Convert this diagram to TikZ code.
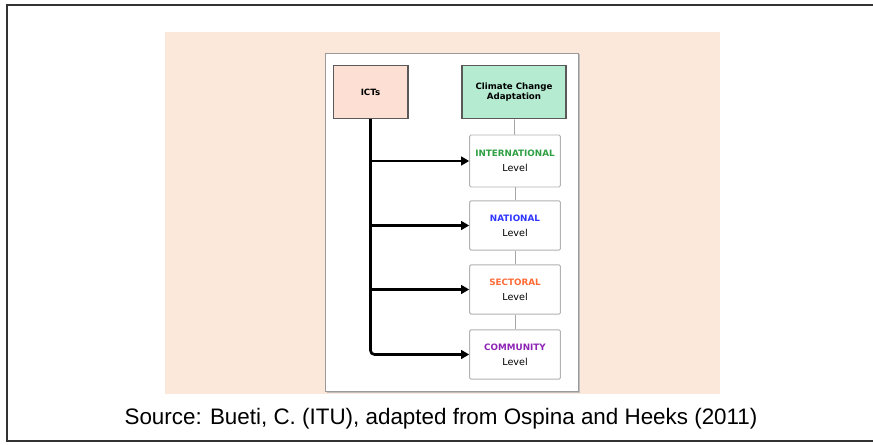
\documentclass[tikz,border=0pt]{standalone}
\usepackage{fontspec}
\setmainfont{Liberation Sans}
\newfontfamily\boxfont{DejaVu Sans}
\usetikzlibrary{arrows.meta}

\definecolor{peach}{HTML}{FCE8DA}
\definecolor{ictfill}{HTML}{FDE0D3}
\definecolor{ccafill}{HTML}{B4EBD1}
\definecolor{intlgreen}{HTML}{2EA043}
\definecolor{natblue}{HTML}{2F36FF}
\definecolor{secorange}{HTML}{FF6B35}
\definecolor{compurple}{HTML}{8E24B5}

\begin{document}
\begin{tikzpicture}[x=0.75pt,y=-0.75pt,
  topbox/.style={draw=black!65, line width=1pt, minimum width=56pt, minimum height=40pt, inner sep=1pt,
    font=\boxfont\bfseries\fontsize{6.5}{8}\selectfont, align=center},
  levelbox/.style={draw=black!30, line width=0.7pt, fill=white, rounded corners=1pt, minimum width=68pt,
    minimum height=37pt, inner sep=1pt, font=\boxfont\fontsize{7.2}{11}\selectfont, align=center},
  feed/.style={line width=2pt, -{Triangle[length=6pt,width=6.5pt]}},
  link/.style={draw=black!35, line width=0.6pt}]
\useasboundingbox (0,0) rectangle (873,445);

% Frame and background
\draw[black!80, line width=1.5pt] (873,5) -- (7,5) -- (7,441) -- (873,441);
\fill[peach] (165,32) rectangle (720,394);
\fill[black!25] (326.5,54.5) rectangle (579.5,392.5);
\draw[black!40, fill=white] (325,53) rectangle (578,391);

% Top boxes
\node[topbox, fill=ictfill] (icts) at (370.5,92) {ICTs};
\node[topbox, fill=ccafill, minimum width=78pt] (cca) at (514,92) {Climate Change\\Adaptation};

% Levels
\node[levelbox, minimum height=39pt] (intl) at (515,161) {{\color{intlgreen}\bfseries\fontsize{6.6}{8}\selectfont INTERNATIONAL}\\Level};
\node[levelbox] (nat) at (515,225.5) {{\color{natblue}\bfseries\fontsize{6.6}{8}\selectfont NATIONAL}\\Level};
\node[levelbox] (sect) at (515,289.5) {{\color{secorange}\bfseries\fontsize{6.6}{8}\selectfont SECTORAL}\\Level};
\node[levelbox] (comm) at (515,354.5) {{\color{compurple}\bfseries\fontsize{6.6}{8}\selectfont COMMUNITY}\\Level};

% Chain of levels
\draw[link] (cca) -- (intl);
\draw[link] (intl) -- (nat);
\draw[link] (nat) -- (sect);
\draw[link] (sect) -- (comm);

% ICT feeds
\draw[feed] (icts.south) |- (intl.west);
\draw[feed] (icts.south) |- (nat.west);
\draw[feed] (icts.south) |- (sect.west);
\draw[feed, rounded corners=3pt] (icts.south) |- (comm.west);

% Caption
\node[font=\fontsize{16.8}{20}\selectfont] (source) at (441,418.5) {Source: Bueti, C. (ITU), adapted from Ospina and Heeks (2011)};
\end{tikzpicture}
\end{document}
